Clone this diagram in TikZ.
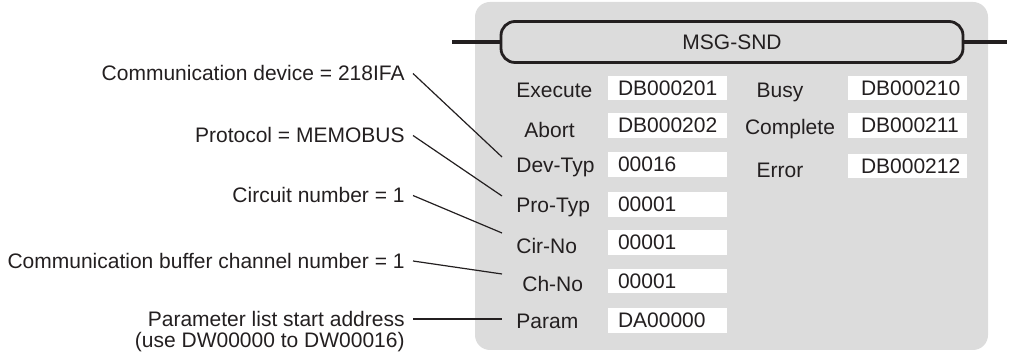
\documentclass[tikz,border=0pt]{standalone}
\usepackage{fontspec}
\setmainfont{Liberation Sans}
\usetikzlibrary{positioning}
\definecolor{plcgray}{HTML}{DCDCDC}
\definecolor{plcink}{HTML}{231F20}

\begin{document}
\begin{tikzpicture}[
    x=0.5pt, y=-0.5pt,
    every node/.style={font=\fontsize{10.5}{12}\selectfont, text=plcink},
    fbox/.style={rectangle, rounded corners=7pt, draw=plcink, line width=1.4pt, fill=plcgray, minimum width=231pt, minimum height=20.5pt},
    argname/.style={anchor=west, inner sep=0pt, text height=0.72em, text depth=0pt},
    resname/.style={inner sep=0pt, text height=0.72em, text depth=0pt},
    valbox/.style={fill=white, text width=49.5pt, inner xsep=5pt, inner ysep=0pt, minimum height=12.25pt, align=left, text height=0.72em, text depth=0pt},
    valboxr/.style={valbox, text width=46.5pt, inner xsep=6.5pt},
    note/.style={anchor=east, align=right, inner xsep=4pt, inner ysep=0pt, text height=0.72em, text depth=0pt},
    bus/.style={draw=plcink, line width=1.8pt},
    lead/.style={draw=plcink, line width=0.6pt}
]
\useasboundingbox (0,0) rectangle (1023,357);

% Panel
\fill[plcgray, rounded corners=7.5pt] (475,2) rectangle (988,350);

% Function block
\node[fbox] (fb) at (732,42) {MSG-SND};
\coordinate (busl) at (452,42);
\coordinate (busr) at (1007,42);
\draw[bus] (busl) -- (fb.west);
\draw[bus] (fb.east) -- (busr);

% Inputs
\node[argname] (exe) at (516,90) {Execute};
\node[valbox] (vexe) at (667.5,88) {DB000201};
\node[argname] (abt) at (524,130) {Abort};
\node[valbox] (vabt) at (667.5,125.5) {DB000202};
\node[argname] (dev) at (516,165) {Dev-Typ};
\node[valbox] (vdev) at (667.5,164.5) {00016};
\node[argname] (pro) at (516,205) {Pro-Typ};
\node[valbox] (vpro) at (667.5,204.5) {00001};
\node[argname] (cir) at (516,246) {Cir-No};
\node[valbox] (vcir) at (667.5,242.5) {00001};
\node[argname] (chn) at (522,284) {Ch-No};
\node[valbox] (vchn) at (667.5,281) {00001};
\node[argname] (par) at (516,321) {Param};
\node[valbox] (vpar) at (667.5,320.5) {DA00000};

% Outputs
\node[resname] (bsy) at (780,90) {Busy};
\node[valboxr] (vbsy) at (907.5,88) {DB000210};
\node[resname] (cmp) at (790,127) {Complete};
\node[valboxr] (vcmp) at (907.5,125.5) {DB000211};
\node[resname] (err) at (780,170) {Error};
\node[valboxr] (verr) at (907.5,166) {DB000212};

% Notes
\node[note] (cdev) at (413,73.5) {Communication device = 218IFA};
\node[note] (cpro) at (413,135.5) {Protocol = MEMOBUS};
\node[note] (ccir) at (413,195.5) {Circuit number = 1};
\node[note] (cchn) at (413,261) {Communication buffer channel number = 1};
\node[note] (cpar) at (413,319) {Parameter list start address};
\node[note] (cparb) at (413,340) {(use DW00000 to DW00016)};

% Leaders
\coordinate (tdev) at (502,157);
\coordinate (tpro) at (502,196);
\coordinate (tcir) at (502,233);
\coordinate (tchn) at (502,274);
\coordinate (tpar) at (502,319);
\draw[lead] (cdev.east) -- (tdev);
\draw[lead] (cpro.east) -- (tpro);
\draw[lead] (ccir.east) -- (tcir);
\draw[lead] (cchn.east) -- (tchn);
\draw[lead] (cpar.east) -- (tpar);

\end{tikzpicture}
\end{document}
